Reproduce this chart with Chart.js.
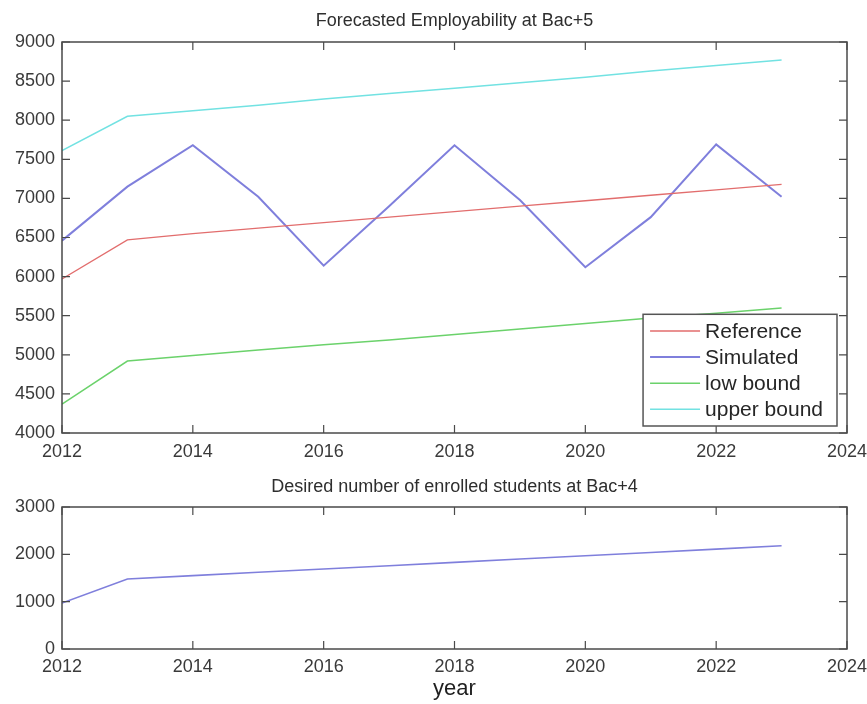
<!DOCTYPE html>
<html>
<head>
<meta charset="utf-8">
<script src="https://cdn.jsdelivr.net/npm/chart.js@4.4.0/dist/chart.umd.min.js"></script>
<style>
  html, body { margin: 0; padding: 0; background: #ffffff; }
  #wrap { position: relative; width: 867px; height: 704px; background: #ffffff; }
  canvas { position: absolute; left: 0; }
  #topChart { top: 0; }
  #bottomChart { top: 470px; }
</style>
</head>
<body>
<div id="wrap">
  <canvas id="topChart" width="867" height="470"></canvas>
  <canvas id="bottomChart" width="867" height="234"></canvas>
</div>
<script>
// Years on the horizontal axis
const years = [2012, 2013, 2014, 2015, 2016, 2017, 2018, 2019, 2020, 2021, 2022, 2023];

// Forecasted employability at Bac+5
const referenceSeries = [5970, 6470, 6550, 6620, 6690, 6760, 6830, 6900, 6970, 7040, 7110, 7180];
const simulatedSeries = [6460, 7150, 7680, 7020, 6140, 6900, 7680, 6980, 6120, 6760, 7690, 7020];
const lowBoundSeries  = [4370, 4920, 4990, 5060, 5130, 5190, 5260, 5330, 5400, 5470, 5530, 5600];
const upperBoundSeries = [7610, 8050, 8120, 8190, 8270, 8340, 8410, 8480, 8550, 8630, 8700, 8770];

// Desired number of enrolled students at Bac+4
const enrolledSeries = [970, 1480, 1550, 1620, 1690, 1760, 1830, 1900, 1970, 2040, 2110, 2180];

// Axis ranges and tick steps
const xRange = [2012, 2024];
const xStep = 2;
const topYRange = [4000, 9000];
const topYStep = 500;
const bottomYRange = [0, 3000];
const bottomYStep = 1000;

const seriesLabels = ['Reference', 'Simulated', 'low bound', 'upper bound'];

const FONT = "'Liberation Sans', Arial, Helvetica, sans-serif";
const TEXT = '#3a3a3a';
const FRAME = '#4a4a4a';

Chart.defaults.font.family = FONT;
Chart.defaults.color = TEXT;

const toPoints = arr => years.map((x, i) => ({ x, y: arr[i] }));

// Box around the plot area with inward tick marks on all four sides
const frameTicks = {
  id: 'frameTicks',
  afterDraw(chart) {
    const { ctx, chartArea: a } = chart;
    const xs = chart.scales.x, ys = chart.scales.y;
    const len = 8;
    ctx.save();
    ctx.strokeStyle = FRAME;
    ctx.lineWidth = 1.5;
    ctx.strokeRect(a.left, a.top, a.right - a.left, a.bottom - a.top);
    ctx.lineWidth = 1.2;
    ctx.beginPath();
    xs.ticks.forEach(t => {
      const px = xs.getPixelForValue(t.value);
      ctx.moveTo(px, a.bottom); ctx.lineTo(px, a.bottom - len);
      ctx.moveTo(px, a.top); ctx.lineTo(px, a.top + len);
    });
    ys.ticks.forEach(t => {
      const py = ys.getPixelForValue(t.value);
      ctx.moveTo(a.left, py); ctx.lineTo(a.left + len, py);
      ctx.moveTo(a.right, py); ctx.lineTo(a.right - len, py);
    });
    ctx.stroke();
    ctx.restore();
  }
};

// Boxed legend in the lower right corner of the plot area
const boxLegend = {
  id: 'boxLegend',
  afterDraw(chart) {
    const { ctx, chartArea: a } = chart;
    const sets = chart.data.datasets;
    const fontSize = 21;
    ctx.save();
    ctx.font = fontSize + 'px ' + FONT;
    const textW = Math.max(...sets.map(d => ctx.measureText(d.label).width));
    const padL = 7, sample = 50, gap = 5, padR = 14;
    const rowH = 26.1, padV = 16.7;
    const w = padL + sample + gap + textW + padR;
    const h = padV * 2 + rowH * (sets.length - 1);
    const right = a.right - 10, bottom = a.bottom - 7;
    const left = right - w, top = bottom - h;
    ctx.fillStyle = '#ffffff';
    ctx.fillRect(left, top, w, h);
    ctx.strokeStyle = '#555555';
    ctx.lineWidth = 1.5;
    ctx.strokeRect(left, top, w, h);
    sets.forEach((d, i) => {
      const cy = top + padV + i * rowH;
      ctx.strokeStyle = d.borderColor;
      ctx.lineWidth = d.borderWidth;
      ctx.beginPath();
      ctx.moveTo(left + padL, cy);
      ctx.lineTo(left + padL + sample, cy);
      ctx.stroke();
      ctx.fillStyle = '#262626';
      ctx.textBaseline = 'middle';
      ctx.textAlign = 'left';
      ctx.fillText(d.label, left + padL + sample + gap, cy + 1);
    });
    ctx.restore();
  }
};

const tickFont = { size: 18 };

function xScale(labelPad, height, withTitle) {
  return {
    type: 'linear',
    min: xRange[0], max: xRange[1],
    grid: { display: false, drawTicks: false },
    border: { display: false },
    ticks: { stepSize: xStep, padding: labelPad, font: tickFont, color: TEXT, maxRotation: 0, autoSkip: false,
             callback: v => String(v) },
    title: withTitle
      ? { display: true, text: 'year', font: { size: 22 }, color: '#1f1f1f', padding: { top: 0, bottom: 2 } }
      : { display: false },
    afterFit(scale) {
      scale.height = height;
      // end labels may overhang the plot edges
      scale.paddingLeft = 0;
      scale.paddingRight = 0;
    }
  };
}

function yScale(range, step) {
  return {
    type: 'linear',
    min: range[0], max: range[1],
    grid: { display: false, drawTicks: false },
    border: { display: false },
    ticks: { stepSize: step, padding: 7, font: tickFont, color: TEXT, callback: v => String(v) },
    afterFit(scale) {
      scale.width = 62;
      scale.paddingTop = 0;
      scale.paddingBottom = 0;
    }
  };
}

const lineStyle = (color, width) => ({
  borderColor: color, backgroundColor: color, borderWidth: width,
  pointRadius: 0, tension: 0, fill: false
});

new Chart(document.getElementById('topChart'), {
  type: 'line',
  data: {
    datasets: [
      { label: seriesLabels[0], data: toPoints(referenceSeries), ...lineStyle('#e26d6d', 1.3) },
      { label: seriesLabels[1], data: toPoints(simulatedSeries), ...lineStyle('#7f7fdc', 2) },
      { label: seriesLabels[2], data: toPoints(lowBoundSeries), ...lineStyle('#6bd26b', 1.5) },
      { label: seriesLabels[3], data: toPoints(upperBoundSeries), ...lineStyle('#72e2e2', 1.5) }
    ]
  },
  options: {
    responsive: false,
    animation: false,
    devicePixelRatio: 1,
    layout: { padding: { left: 0, right: 20, top: 0, bottom: 0 } },
    plugins: {
      legend: { display: false },
      tooltip: { enabled: false },
      title: {
        display: true, fullSize: false,
        text: 'Forecasted Employability at Bac+5',
        font: { size: 18, weight: 'normal' }, color: '#2e2e2e',
        padding: { top: 10, bottom: 10.4 }
      }
    },
    scales: { x: xScale(8, 37, false), y: yScale(topYRange, topYStep) }
  },
  plugins: [frameTicks, boxLegend]
});

new Chart(document.getElementById('bottomChart'), {
  type: 'line',
  data: {
    datasets: [
      { label: 'Simulated', data: toPoints(enrolledSeries), ...lineStyle('#7f7fdc', 1.6) }
    ]
  },
  options: {
    responsive: false,
    animation: false,
    devicePixelRatio: 1,
    layout: { padding: { left: 0, right: 20, top: 0, bottom: 0 } },
    plugins: {
      legend: { display: false },
      tooltip: { enabled: false },
      title: {
        display: true, fullSize: false,
        text: 'Desired number of enrolled students at Bac+4',
        font: { size: 18, weight: 'normal' }, color: '#2e2e2e',
        padding: { top: 6.2, bottom: 9.2 }
      }
    },
    scales: { x: xScale(7, 55, true), y: yScale(bottomYRange, bottomYStep) }
  },
  plugins: [frameTicks]
});
</script>
</body>
</html>
